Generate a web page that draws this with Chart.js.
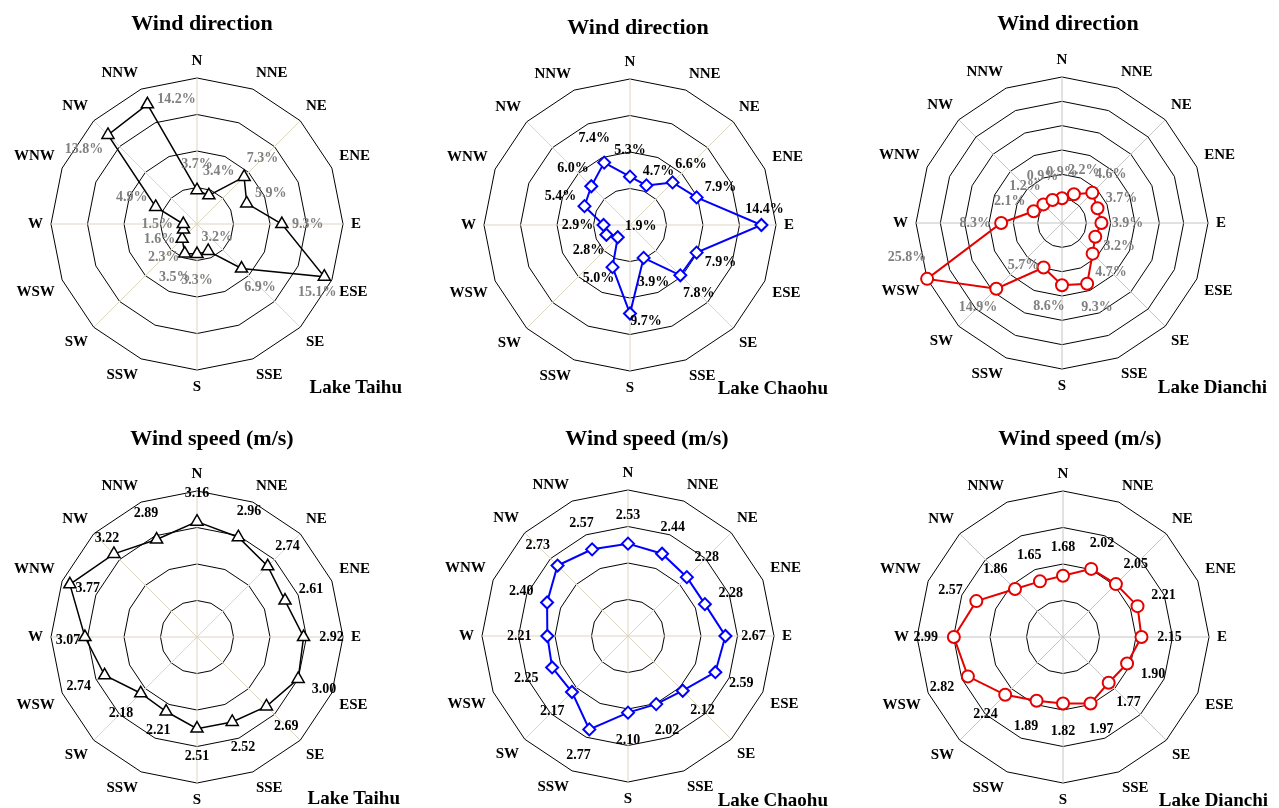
<!DOCTYPE html>
<html>
<head>
<meta charset="utf-8">
<script src="https://cdn.jsdelivr.net/npm/chart.js@4.4.0/dist/chart.umd.min.js"></script>
<style>
body{margin:0;width:1279px;height:808px;overflow:hidden;background:#fff;position:relative;font-family:"Liberation Serif","Times New Roman",serif}
canvas{position:absolute}
.title{position:absolute;font-weight:bold;font-size:22px;transform:translate(-50%,-50%);white-space:nowrap}
.lake{position:absolute;font-weight:bold;font-size:19px;transform:translate(-100%,-50%);white-space:nowrap}
</style>
</head>
<body>
<canvas id="taihu_dir" width="420" height="400" style="left:-13px;top:0"></canvas>
<canvas id="chaohu_dir" width="420" height="400" style="left:420px;top:0"></canvas>
<canvas id="dianchi_dir" width="420" height="400" style="left:852px;top:0"></canvas>
<canvas id="taihu_speed" width="420" height="400" style="left:-13px;top:413px"></canvas>
<canvas id="chaohu_speed" width="420" height="400" style="left:418px;top:413px"></canvas>
<canvas id="dianchi_speed" width="420" height="400" style="left:853px;top:413px"></canvas>

<div class="title" style="left:202px;top:23px">Wind direction</div>
<div class="title" style="left:638px;top:27px">Wind direction</div>
<div class="title" style="left:1068px;top:23px">Wind direction</div>
<div class="title" style="left:212px;top:438px">Wind speed (m/s)</div>
<div class="title" style="left:647px;top:438px">Wind speed (m/s)</div>
<div class="title" style="left:1080px;top:438px">Wind speed (m/s)</div>

<div class="lake" style="left:402px;top:387px">Lake Taihu</div>
<div class="lake" style="left:828px;top:388px">Lake Chaohu</div>
<div class="lake" style="left:1267px;top:387px">Lake Dianchi</div>
<div class="lake" style="left:400px;top:798px">Lake Taihu</div>
<div class="lake" style="left:828px;top:800px">Lake Chaohu</div>
<div class="lake" style="left:1268px;top:800px">Lake Dianchi</div>

<script>
const directions = ['N','NNE','NE','ENE','E','ESE','SE','SSE','S','SSW','SW','WSW','W','WNW','NW','NNW'];

// frequency of wind direction (%)
const taihuDir   = [3.7,3.4,7.3,5.9,9.3,15.1,6.9,3.2,3.3,3.5,2.3,1.6,1.5,4.9,13.8,14.2];
const chaohuDir  = [5.3,4.7,6.6,7.9,14.4,7.9,7.8,3.9,9.7,5.0,1.9,2.8,2.9,5.4,6.0,7.4];
const dianchiDir = [0.9,2.2,4.6,3.7,3.9,3.2,4.7,9.3,8.6,5.7,14.9,25.8,8.3,2.1,1.2,0.9];

// mean wind speed (m/s)
const taihuSpeed   = [3.16,2.96,2.74,2.61,2.92,3.00,2.69,2.52,2.51,2.21,2.18,2.74,3.07,3.77,3.22,2.89];
const chaohuSpeed  = [2.53,2.44,2.28,2.28,2.67,2.59,2.12,2.02,2.10,2.77,2.17,2.25,2.21,2.40,2.73,2.57];
const dianchiSpeed = [1.68,2.02,2.05,2.21,2.15,1.90,1.77,1.97,1.82,1.89,2.24,2.82,2.99,2.57,1.86,1.65];

// radial axis: min, max, step
const dirRange = [0, 16, 4];
const dianchiDirRange = [-4.2, 25.8, 5];
const speedRange = [0, 4, 1];

const beige = '#ddd5bf';
const grey = '#c4c4c4';

// data labels, pushed outward along the spoke unless a shift is given
function valueLabels(opt) {
    return {
        id: 'valueLabels',
        afterDatasetsDraw(chart) {
            const ctx = chart.ctx;
            const scale = chart.scales.r;
            const values = chart.data.datasets[0].data;
            ctx.save();
            ctx.font = 'bold 14px "Liberation Serif"';
            ctx.fillStyle = opt.labelColor;
            ctx.textAlign = 'center';
            ctx.textBaseline = 'middle';
            chart.getDatasetMeta(0).data.forEach((pt, i) => {
                let d = opt.shift[i];
                if (!d) {
                    const a = scale.getIndexAngle(i) - Math.PI / 2;
                    d = [Math.cos(a) * opt.dist, Math.sin(a) * opt.dist];
                }
                const v = values[i];
                const txt = opt.percent ? v.toFixed(1) + '%' : v.toFixed(2);
                ctx.fillText(txt, pt.x + d[0], pt.y + d[1]);
            });
            ctx.restore();
        }
    };
}

function radar(id, values, opt) {
    new Chart(id, {
        type: 'radar',
        data: {
            labels: directions,
            datasets: [{
                data: values,
                fill: false,
                borderColor: opt.color,
                borderWidth: opt.lineWidth,
                pointStyle: opt.marker,
                pointRadius: opt.markerSize,
                pointHoverRadius: opt.markerSize,
                pointBackgroundColor: '#fff',
                pointBorderColor: opt.color,
                pointBorderWidth: opt.lineWidth
            }]
        },
        options: {
            responsive: false,
            animation: false,
            layout: {padding: {top: opt.top, bottom: 400 - opt.top - 344, left: 0, right: 0}},
            plugins: {legend: {display: false}, tooltip: {enabled: false}},
            scales: {
                r: {
                    min: opt.range[0],
                    max: opt.range[1],
                    ticks: {display: false, stepSize: opt.range[2]},
                    grid: {color: '#000', lineWidth: 1},
                    angleLines: {color: opt.spokes, lineWidth: c => c.index % 2 ? 0 : 1},
                    pointLabels: {
                        padding: 8,
                        color: '#000',
                        font: {family: 'Liberation Serif', size: 15, weight: 'bold'}
                    }
                }
            }
        },
        plugins: [valueLabels(opt)]
    });
}

radar('taihu_dir', taihuDir, {
    color: '#000', lineWidth: 1.5, marker: 'triangle', markerSize: 7,
    range: dirRange, spokes: beige, top: 52,
    labelColor: '#808080', percent: true, dist: 26,
    shift: {5: [-7, 16], 7: [9, -14], 14: [-24, 14], 15: [29, -5]}
});
radar('chaohu_dir', chaohuDir, {
    color: '#0000ff', lineWidth: 2, marker: 'rectRot', markerSize: 6,
    range: dirRange, spokes: beige, top: 53,
    labelColor: '#000', percent: true, dist: 26,
    shift: {1: [12, -14], 4: [3, -16], 8: [16, 8], 9: [-14, 11], 10: [23, -11], 11: [-18, 16]}
});
radar('dianchi_dir', dianchiDir, {
    color: '#e60000', lineWidth: 2, marker: 'circle', markerSize: 6,
    range: dianchiDirRange, spokes: grey, top: 51,
    labelColor: '#808080', percent: true, dist: 26,
    shift: {8: [-13, 21], 9: [-20, -2], 11: [-20, -21]}
});
radar('taihu_speed', taihuSpeed, {
    color: '#000', lineWidth: 1.5, marker: 'triangle', markerSize: 7,
    range: speedRange, spokes: beige, top: 52,
    labelColor: '#000', percent: false, dist: 28,
    shift: {9: [-8, 19], 12: [-17, 3], 13: [18, 4], 14: [-7, -16]}
});
radar('chaohu_speed', chaohuSpeed, {
    color: '#0000ff', lineWidth: 2, marker: 'rectRot', markerSize: 6,
    range: speedRange, spokes: beige, top: 51,
    labelColor: '#000', percent: false, dist: 28,
    shift: {}
});
radar('dianchi_speed', dianchiSpeed, {
    color: '#e60000', lineWidth: 2, marker: 'circle', markerSize: 6,
    range: speedRange, spokes: grey, top: 52,
    labelColor: '#000', percent: false, dist: 28,
    shift: {}
});
</script>
</body>
</html>
